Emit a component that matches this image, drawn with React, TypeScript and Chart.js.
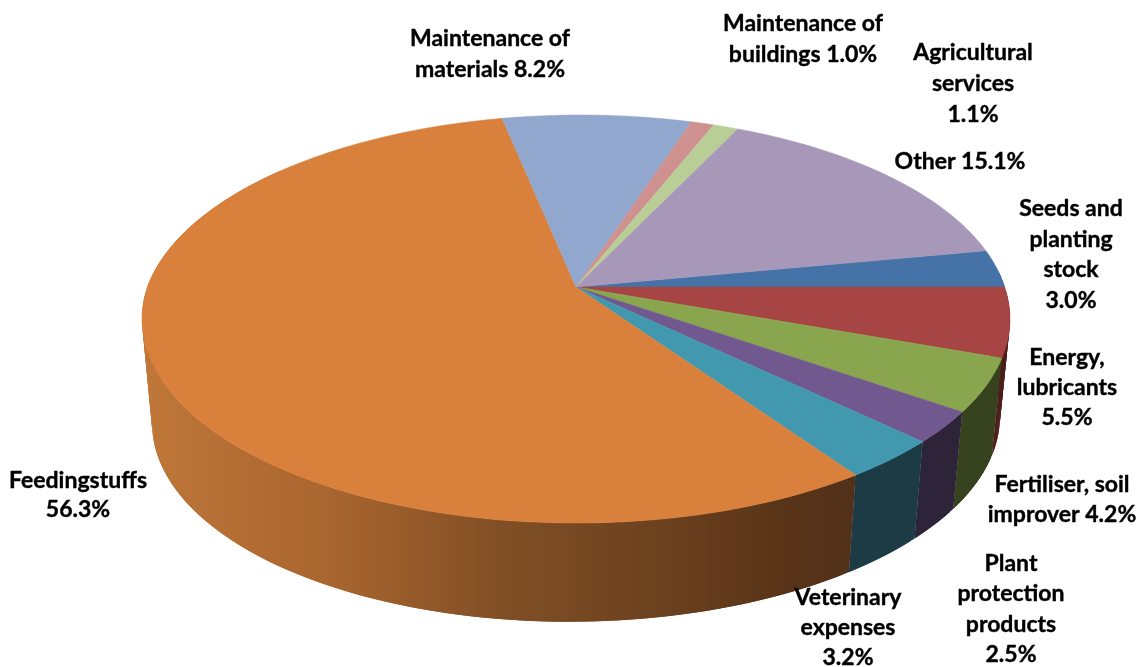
import React, { useEffect, useRef } from "react";
import { Chart, registerables } from "chart.js";

Chart.register(...registerables);

const categories = [
  "Seeds and planting stock",
  "Energy, lubricants",
  "Fertiliser, soil improver",
  "Plant protection products",
  "Veterinary expenses",
  "Feedingstuffs",
  "Maintenance of materials",
  "Maintenance of buildings",
  "Agricultural services",
  "Other",
];
const values = [3.0, 5.5, 4.2, 2.5, 3.2, 56.3, 8.2, 1.0, 1.1, 15.1];
const topColors = ["#4572A7", "#A64543", "#89A54E", "#71588F", "#4198AF", "#D9813C", "#91A7CE", "#CF9190", "#B9CD96", "#A798BA"];
const sideColors = ["#2a4565", "#4f1d1c", "#37421F", "#2D2439", "#1C3B45", "", "", "", "", ""];
const labelLines = [
  ["Seeds and", "planting", "stock", "3.0%"],
  ["Energy,", "lubricants", "5.5%"],
  ["Fertiliser, soil", "improver 4.2%"],
  ["Plant", "protection", "products", "2.5%"],
  ["Veterinary", "expenses", "3.2%"],
  ["Feedingstuffs", "56.3%"],
  ["Maintenance of", "materials 8.2%"],
  ["Maintenance of", "buildings 1.0%"],
  ["Agricultural", "services", "1.1%"],
  ["Other 15.1%"],
];

// Label layout: centre x and the y of each line
const labelLayout: [number, number[]][] = [
  [1071, [209, 240, 270, 301]],
  [1067, [358, 388, 418]],
  [1062, [485, 515]],
  [1011, [564, 594, 625, 655]],
  [848, [598, 628, 658]],
  [78, [481, 510]],
  [490, [39, 70]],
  [803, [24, 55]],
  [973, [53, 84, 115]],
  [960, [162]],
];

const feedStops: [number, string][] = [
  [145, "#BF7739"],
  [330, "#A9652F"],
  [500, "#814F25"],
  [650, "#6D421F"],
  [790, "#583317"],
  [850, "#52311A"],
];

const top = { cx: 576, cy: 287, a: 428.6, b: 199, k: 0.157, skew: 0, shear: 5 };
const bottom = { cx: 576, cy: 388, a: 418.7, b: 197, k: 0.157, skew: 0.008, shear: 5 };

function project(p: typeof top, theta: number): [number, number] {
  const u = Math.sin(theta);
  const v = Math.cos(theta);
  const w = 1 + p.k * v;
  const dx = (p.a * u + p.shear * Math.max(v, 0)) / w;
  return [p.cx + dx, p.cy - (p.b * v) / w - p.skew * dx];
}

function arcPoints(p: typeof top, from: number, to: number) {
  const n = Math.max(2, Math.ceil((Math.abs(to - from) / Math.PI) * 180));
  const pts: [number, number][] = [];
  for (let i = 0; i <= n; i++) pts.push(project(p, from + ((to - from) * i) / n));
  return pts;
}

const pie3d = {
  id: "pie3d",
  beforeDatasetsDraw(chart: any) {
    const ctx: CanvasRenderingContext2D = chart.ctx;
    const arcs = chart.getDatasetMeta(0).data;
    const limitA = (85 / 180) * Math.PI;
    const limitB = (310 / 180) * Math.PI;
    const ranges = arcs.map((arc: any) => [arc.startAngle + Math.PI / 2, arc.endAngle + Math.PI / 2]);

    ctx.save();
    // side wall: overlapping opaque quads, so the outline takes the tangent between both rims
    ranges.forEach(([s, e]: number[], i: number) => {
      const from = Math.max(s, limitA);
      const to = Math.min(e, limitB);
      if (to <= from) return;
      const upper = arcPoints(top, from, to);
      const lower = arcPoints(bottom as any, from, to);
      let fill: string | CanvasGradient = sideColors[i];
      if (i === 5) {
        const g = ctx.createLinearGradient(145, 0, 850, 0);
        feedStops.forEach(([x, c]) => g.addColorStop((x - 145) / 705, c));
        fill = g;
      }
      ctx.fillStyle = fill;
      const last = upper.length - 1;
      for (let j = 0; j < last; j++) {
        const n = Math.min(j + 2, last);
        ctx.beginPath();
        ctx.moveTo(upper[j][0], upper[j][1]);
        ctx.lineTo(upper[n][0], upper[n][1]);
        ctx.lineTo(lower[n][0], lower[n][1]);
        ctx.lineTo(lower[j][0], lower[j][1]);
        ctx.closePath();
        ctx.fill();
      }
    });
    // top face
    ranges.forEach(([s, e]: number[], i: number) => {
      const pts = arcPoints(top, s, e);
      ctx.beginPath();
      ctx.moveTo(top.cx, top.cy);
      pts.forEach(([x, y]) => ctx.lineTo(x, y));
      ctx.closePath();
      ctx.fillStyle = topColors[i];
      ctx.strokeStyle = topColors[i];
      ctx.lineWidth = 0.5;
      ctx.fill();
      ctx.stroke();
    });
    // labels
    ctx.fillStyle = "#000000";
    ctx.strokeStyle = "#000000";
    ctx.lineWidth = 0.4;
    ctx.font = "bold 23px Lato";
    ctx.textAlign = "center";
    ctx.textBaseline = "middle";
    labelLines.forEach((lines, i) => {
      const [x, ys] = labelLayout[i];
      lines.forEach((line, j) => {
        ctx.fillText(line, x, ys[j]);
        ctx.strokeText(line, x, ys[j]);
      });
    });
    ctx.restore();
    return false;
  },
};

export default function App() {
  const ref = useRef<HTMLCanvasElement>(null);
  useEffect(() => {
    const total = values.reduce((a, b) => a + b, 0);
    const chart = new Chart(ref.current as HTMLCanvasElement, {
      type: "pie",
      data: {
        labels: categories,
        datasets: [{ data: values, backgroundColor: topColors, borderWidth: 0 }],
      },
      options: {
        responsive: false,
        animation: false,
        // Energy slice begins exactly at 3 o'clock
        rotation: 90 - (values[0] / total) * 360,
        plugins: { legend: { display: false }, tooltip: { enabled: false } },
      },
      plugins: [pie3d as any],
    });
    return () => chart.destroy();
  }, []);
  return (
    <div style={{ position: "fixed", left: 0, top: 0, width: 1139, height: 667, background: "#fff" }}>
      <canvas ref={ref} width={1139} height={667} style={{ display: "block" }} />
    </div>
  );
}
